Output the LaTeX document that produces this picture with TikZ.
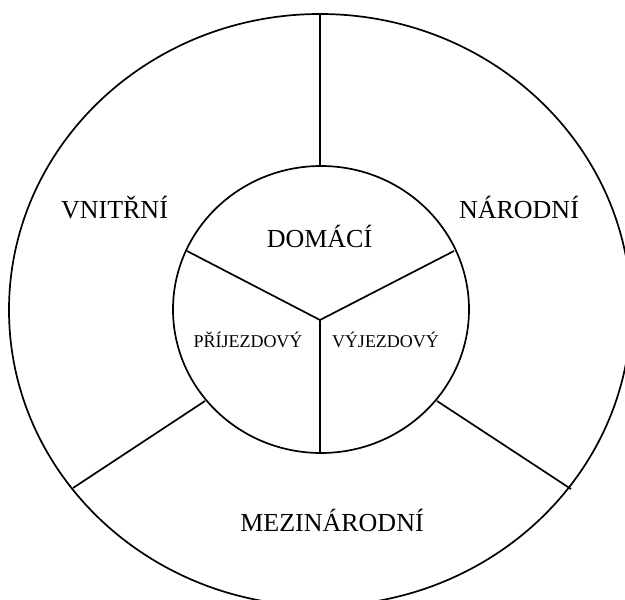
\documentclass[tikz,border=0pt]{standalone}
\usepackage{fontspec}
\setmainfont{Liberation Serif}
\begin{document}
\begin{tikzpicture}[x=1pt,y=-1pt,
  ln/.style={line width=1.7pt},
  big/.style={inner sep=0pt,anchor=base,font=\fontsize{26}{30}\selectfont},
  small/.style={inner sep=0pt,anchor=base,font=\fontsize{18}{21}\selectfont}]
\useasboundingbox (0,0) rectangle (625,600);
\clip (0,0) rectangle (625,600);
% outer and inner rings
\draw[ln] (320,310) ellipse [x radius=311, y radius=296];
\draw[ln] (321,309.5) ellipse [x radius=148, y radius=143.5];
% coordinates
\coordinate (yc) at (320,320);
\coordinate (i1) at (187,251);
\coordinate (i2) at (454,251);
\coordinate (i3) at (320,453);
\coordinate (ot) at (320,14);
\coordinate (it) at (320,166);
\coordinate (il) at (205,401);
\coordinate (ol) at (73,488);
\coordinate (ir) at (437,401);
\coordinate (or) at (571,489);
% inner spokes
\draw[ln] (yc) -- (i1);
\draw[ln] (yc) -- (i2);
\draw[ln] (yc) -- (i3);
% outer spokes
\draw[ln] (ot) -- (it);
\draw[ln] (il) -- (ol);
\draw[ln] (ir) -- (or);
% labels
\node[big] (vn) at (114.5,218) {VNITŘNÍ};
\node[big] (na) at (519,218) {NÁRODNÍ};
\node[big] (do) at (319.5,247) {DOMÁCÍ};
\node[small] (pr) at (248,347) {PŘÍJEZDOVÝ};
\node[small] (vy) at (385.5,347) {VÝJEZDOVÝ};
\node[big] (me) at (332,531) {MEZINÁRODNÍ};
\end{tikzpicture}
\end{document}
